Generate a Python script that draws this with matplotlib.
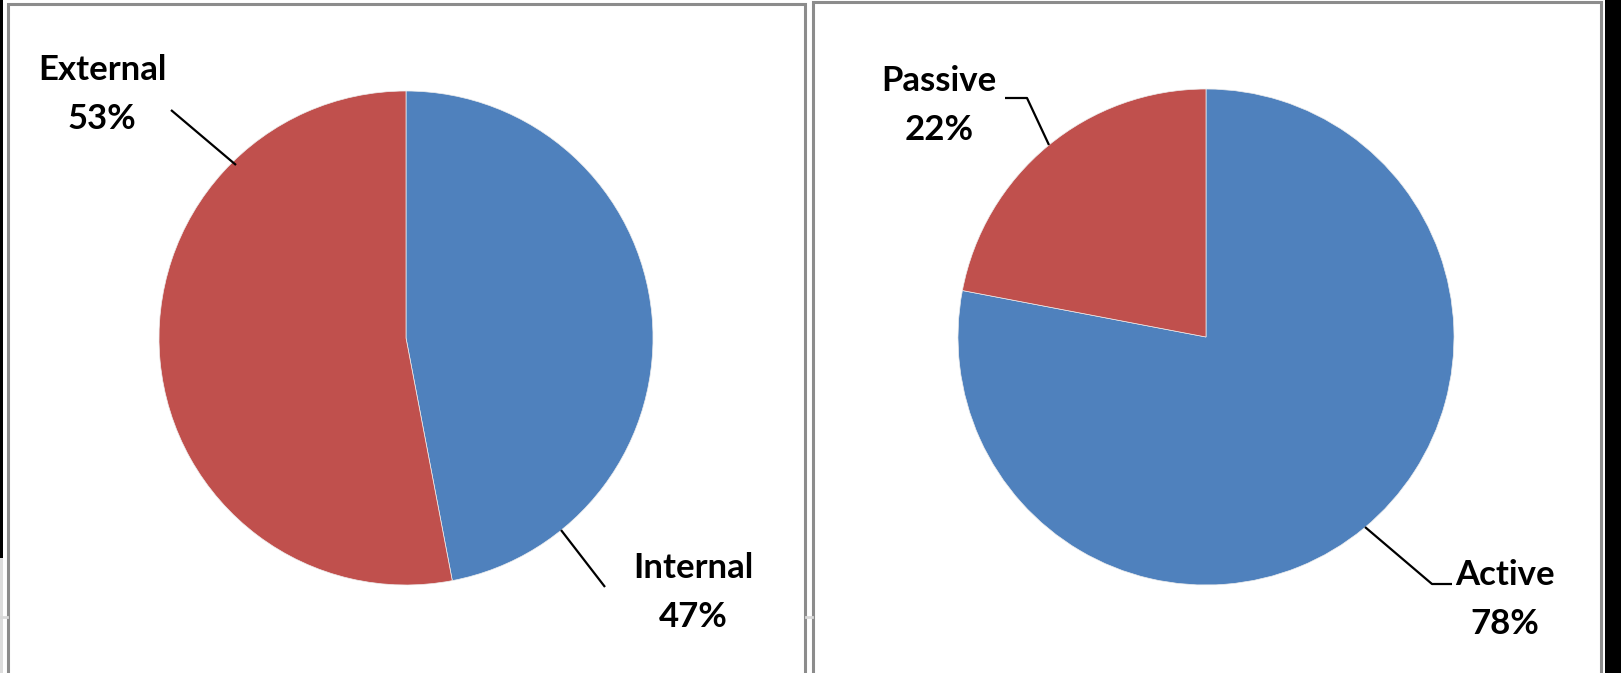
import matplotlib
matplotlib.use("Agg")
import matplotlib.pyplot as plt
from matplotlib.patches import Rectangle

# ── data ─────────────────────────────────────────────────────────────────────
source_labels = ["Internal", "External"]
source_values = [47, 53]

mode_labels = ["Active", "Passive"]
mode_values = [78, 22]

COLORS = ["#4F81BD", "#C0504D"]

# ── canvas (pixel space, y measured from the top) ────────────────────────────
W, H = 1621, 673
fig = plt.figure(figsize=(W / 100, H / 100), dpi=100)
ax = fig.add_axes([0, 0, 1, 1])


def fy(y):
    return H - y


def draw_pie(values, labels, center, radius, label_pos, leaders):
    ax.pie(values, colors=COLORS, startangle=90, counterclock=False,
           center=(center[0], fy(center[1])), radius=radius,
           wedgeprops=dict(edgecolor="#eeeeee", linewidth=0.5))
    for lab, val, (tx, ty), pts in zip(labels, values, label_pos, leaders):
        # name on top, percentage underneath
        ax.text(tx, fy(ty), lab, ha="center", va="center",
                fontsize=25, fontweight="bold", family="Lato", color="black")
        ax.text(tx, fy(ty + 49), f"{val}%", ha="center", va="center",
                fontsize=25, fontweight="bold", family="Lato", color="black")
        xs = [p[0] for p in pts]
        ys = [fy(p[1]) for p in pts]
        ax.plot(xs, ys, color="black", lw=1.6, solid_capstyle="butt")


# chart frames
ax.add_patch(Rectangle((8, fy(H + 10)), 797, H + 10 - 4, fill=False,
                       edgecolor="#8c8c8c", lw=2.2))
ax.add_patch(Rectangle((813, fy(H + 10)), 788, H + 10 - 2, fill=False,
                       edgecolor="#8c8c8c", lw=2.2))

# spreadsheet bits around the frames
ax.add_patch(Rectangle((0, fy(558)), 2.5, 558, color="black", lw=0))
ax.add_patch(Rectangle((0, 0), 2.5, fy(558), color="#dddddd", lw=0))
ax.add_patch(Rectangle((1605, 0), 16, H, color="black", lw=0))
ax.plot([0, 7], [fy(617), fy(617)], color="#d9d9d9", lw=2)
ax.plot([806, 812], [fy(617), fy(617)], color="#d9d9d9", lw=2)

draw_pie(source_values, source_labels, center=(406, 338), radius=247,
         label_pos=[(693, 568), (102, 70)],
         leaders=[[(561, 530), (605, 587)], [(171, 110), (236, 165)]])

draw_pie(mode_values, mode_labels, center=(1206, 337), radius=248,
         label_pos=[(1505, 575), (939, 81)],
         leaders=[[(1365, 527), (1432, 584), (1452, 584)],
                  [(1005, 98), (1027, 98), (1049, 145)]])

ax.set_xlim(0, W)
ax.set_ylim(0, H)
ax.set_aspect("auto")
ax.axis("off")

fig.savefig("out.png", dpi=100, facecolor="white")
